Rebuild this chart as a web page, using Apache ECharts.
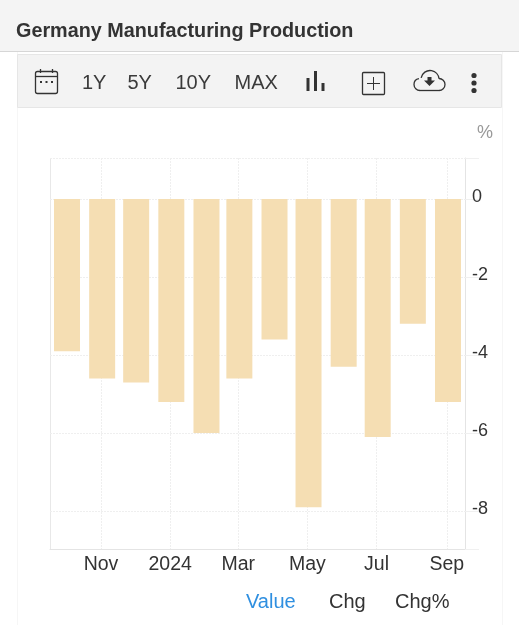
<!DOCTYPE html>
<html><head><meta charset="utf-8">
<style>html,body{margin:0;padding:0;background:#fff}#c{width:519px;height:625px}</style>
<script src="https://cdn.jsdelivr.net/npm/echarts@6/dist/echarts.min.js"></script>
</head><body><div id="c"></div>
<script>
const titleText = 'Germany Manufacturing Production';
const months = ['2023-10-02','2023-11-02','2023-12-02','2024-01-02','2024-02-02','2024-03-02','2024-04-02','2024-05-02','2024-06-02','2024-07-02','2024-08-02','2024-09-02'];
const values = [-3.9,-4.6,-4.7,-5.2,-6.0,-4.6,-3.6,-7.9,-4.3,-6.1,-3.2,-5.2];
const xTickDates = ['2023-11-01','2024-01-01','2024-03-01','2024-05-01','2024-07-01','2024-09-01'];
const xTickNames = ['Nov','2024','Mar','May','Jul','Sep'];
const yLabelTicks = [-8,-6,-4,-2,0];
const rangeButtons = ['1Y','5Y','10Y','MAX'];
const viewTabs = ['Value','Chg','Chg%'];
const unitText = '%';

const FONT = '"Liberation Sans", Arial, sans-serif';
const DARK = '#333';
const ts = s => Date.parse(s + 'T00:00:00Z');
const nameByTs = {};
xTickDates.forEach((d,i)=>{nameByTs[ts(d)] = xTickNames[i];});
const yMin = -8.97, yMax = 1.05;

const iconStyle = {stroke:'#333',fill:'none',lineWidth:1.3};
const deg = a => a * Math.PI / 180;
function txt(x,y,text,size,color,extra){
  return Object.assign({type:'text',x,y,z:5,style:{text,font:size+'px '+FONT,fill:color,textVerticalAlign:'middle',textAlign:'left'}},extra||{});
}
function arc(cx,cy,r,a,b){
  return {type:'arc',z:5,shape:{cx,cy,r,startAngle:deg(a),endAngle:deg(b),clockwise:true},style:iconStyle};
}
const btnX = [82,127.5,175.5,234.5];
const tabX = [246,329,395];
const graphics = [
  {type:'rect',z:-10,shape:{x:0,y:0,width:519,height:51},style:{fill:'#f4f4f4'}},
  {type:'rect',z:-10,shape:{x:0,y:51,width:519,height:1},style:{fill:'#d6d6d6'}},
  {type:'rect',z:-10,shape:{x:17,y:52,width:1,height:573},style:{fill:'#f6f6f6'}},
  {type:'rect',z:-10,shape:{x:502,y:52,width:1,height:573},style:{fill:'#f6f6f6'}},
  {type:'rect',z:-9,shape:{x:17.5,y:54.5,width:484,height:53},style:{fill:'#f3f3f3',stroke:'#e6e6e6',lineWidth:1}},
  {type:'rect',z:-8,shape:{x:50,y:158,width:1,height:391},style:{fill:'#e8e8e8'}},
  {type:'text',x:16,y:32,z:5,style:{text:titleText,font:'bold 19.8px '+FONT,fill:'#333',textVerticalAlign:'middle'}},
  // calendar icon
  {type:'rect',z:5,shape:{x:35.5,y:71.5,width:22,height:22,r:2},style:iconStyle},
  {type:'line',z:5,shape:{x1:35.5,y1:76.5,x2:57.5,y2:76.5},style:iconStyle},
  {type:'line',z:5,shape:{x1:40.5,y1:69,x2:40.5,y2:73},style:iconStyle},
  {type:'line',z:5,shape:{x1:52.5,y1:69,x2:52.5,y2:73},style:iconStyle},
  {type:'rect',z:5,shape:{x:40,y:81,width:2,height:2},style:{fill:'#333'}},
  {type:'rect',z:5,shape:{x:45.5,y:81,width:2,height:2},style:{fill:'#333'}},
  {type:'rect',z:5,shape:{x:51,y:81,width:2,height:2},style:{fill:'#333'}},
  // bars icon
  {type:'rect',z:5,shape:{x:306.5,y:78,width:3,height:13},style:{fill:'#333'}},
  {type:'rect',z:5,shape:{x:314,y:71,width:3,height:20},style:{fill:'#333'}},
  {type:'rect',z:5,shape:{x:321.5,y:83,width:3,height:8},style:{fill:'#333'}},
  // plus box
  {type:'rect',z:5,shape:{x:362.5,y:72.5,width:22,height:22,r:1},style:iconStyle},
  {type:'line',z:5,shape:{x1:367,y1:83.5,x2:380,y2:83.5},style:{stroke:'#333',lineWidth:1}},
  {type:'line',z:5,shape:{x1:373.5,y1:77,x2:373.5,y2:90},style:{stroke:'#333',lineWidth:1}},
  // cloud
  arc(420,84.5,6,90,260),
  arc(430,79.5,9,190,355),
  arc(439,84.5,6,270,450),
  {type:'line',z:5,shape:{x1:420,y1:90.5,x2:439,y2:90.5},style:iconStyle},
  {type:'polygon',z:5,shape:{points:[[427.5,77],[431.5,77],[431.5,80.5],[435,80.5],[429.5,86],[424,80.5],[427.5,80.5]]},style:{fill:'#333'}},
  // dots
  {type:'circle',z:5,shape:{cx:474,cy:75.5,r:2.6},style:{fill:'#333'}},
  {type:'circle',z:5,shape:{cx:474,cy:83,r:2.6},style:{fill:'#333'}},
  {type:'circle',z:5,shape:{cx:474,cy:90.5,r:2.6},style:{fill:'#333'}},
  txt(477,133,unitText,18,'#999')
];
rangeButtons.forEach((t,i)=>graphics.push(txt(btnX[i],83,t,20,'#3a3a3a')));
viewTabs.forEach((t,i)=>graphics.push(txt(tabX[i],602,t,20,i===0?'#2f8fe0':DARK)));

const chart = echarts.init(document.getElementById('c'),null,{renderer:'canvas'});
const gridLine = {show:true,lineStyle:{color:'#efefef',type:[2,1],width:1}};
chart.setOption({
  animation:false,
  backgroundColor:'#fff',
  graphic:graphics,
  grid:{left:50,right:54,top:158,bottom:76,containLabel:false},
  xAxis:{
    type:'value',
    min:ts('2023-09-17'),
    max:ts('2024-09-17'),
    axisLine:{show:true,onZero:false,lineStyle:{color:'#e4e4e4'}},
    axisTick:{show:false,customValues:xTickDates.map(ts)},
    splitLine:gridLine,
    axisLabel:{customValues:xTickDates.map(ts),hideOverlap:false,margin:6,color:DARK,fontFamily:FONT,fontSize:19.5,
      formatter:v=>nameByTs[v]||''}
  },
  yAxis:{
    type:'value',position:'right',min:yMin,max:yMax,
    axisLine:{show:true,lineStyle:{color:'#e4e4e4'}},
    axisTick:{show:true,length:14,lineStyle:{color:'#f0f0f0'},customValues:[yMin].concat(yLabelTicks,[yMax])},
    splitLine:gridLine,
    axisLabel:{customValues:yLabelTicks,margin:7,color:DARK,fontFamily:FONT,fontSize:18,verticalAlign:'bottom',lineHeight:4,formatter:v=>String(v)}
  },
  series:[{type:'bar',barWidth:26,itemStyle:{color:'#f5deb3'},data:months.map((m,i)=>[ts(m),values[i]])}]
});
</script></body></html>
